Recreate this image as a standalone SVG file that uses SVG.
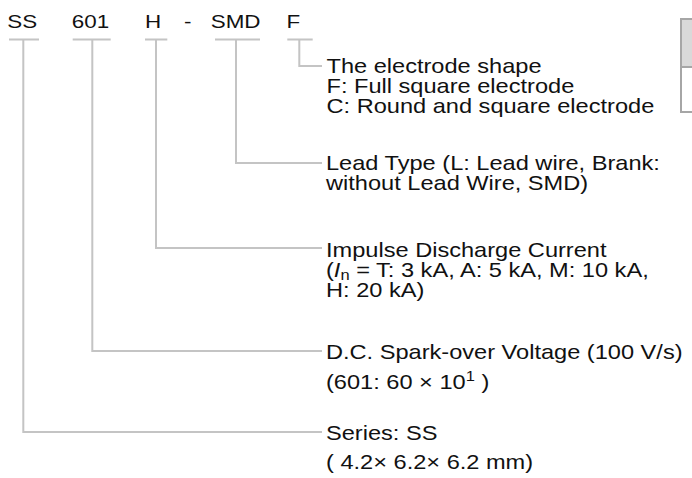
<svg xmlns="http://www.w3.org/2000/svg" width="692" height="478" viewBox="0 0 692 478">
<style>
.t{font-family:"Liberation Sans",Arial,sans-serif;font-size:20px;fill:#111}
.h{font-family:"Liberation Sans",Arial,sans-serif;font-size:19px;fill:#111}
.ln{fill:none;stroke:#c4c4c4;stroke-width:2}
.sub{font-size:14px}
</style>
<rect width="692" height="478" fill="#fff"/>
<g id="table">
<rect x="681" y="19" width="20" height="48" fill="#d9d9d9"/>
<rect x="681" y="19" width="20" height="93" fill="none" stroke="#a6a6a6" stroke-width="2"/>
<line x1="681" y1="67" x2="692" y2="67" stroke="#a6a6a6" stroke-width="2"/>
</g>
<g id="code">
<text class="h" transform="translate(7.3 27.5) scale(1.18 1)">SS</text>
<text class="h" transform="translate(71.8 27.5) scale(1.18 1)">601</text>
<text class="h" transform="translate(145 27.5) scale(1.18 1)">H</text>
<text class="h" transform="translate(184 27.5) scale(1.18 1)">-</text>
<text class="h" transform="translate(210.7 27.5) scale(1.18 1)">SMD</text>
<text class="h" transform="translate(286.5 27.5) scale(1.18 1)">F</text>
</g>
<g id="connectors">
<path class="ln" d="M9 39.5H39M23.3 39.5V432H322"/>
<path class="ln" d="M72.7 39.5H110.7M92.3 39.5V351H322"/>
<path class="ln" d="M145 39.5H167.3M156 39.5V248H322"/>
<path class="ln" d="M215 39.5H260M236 39.5V163H322"/>
<path class="ln" d="M287.3 39.5H312.7M299.3 39.5V66H322"/>
</g>
<g id="shape">
<text class="t" transform="translate(326.5 73) scale(1.18 1)">The electrode shape</text>
<text class="t" transform="translate(326.5 93) scale(1.18 1)">F: Full square electrode</text>
<text class="t" transform="translate(326.5 113) scale(1.18 1)">C: Round and square electrode</text>
</g>
<g id="lead">
<text class="t" transform="translate(326 170) scale(1.18 1)">Lead Type (L: Lead wire, Brank:</text>
<text class="t" transform="translate(326 190) scale(1.18 1)">without Lead Wire, SMD)</text>
</g>
<g id="impulse">
<text class="t" transform="translate(326 257) scale(1.18 1)">Impulse Discharge Current</text>
<text class="t" transform="translate(326 277) scale(1.18 1)">(<tspan font-style="italic">I</tspan><tspan class="sub" dy="3">n</tspan><tspan dy="-3"> = T: 3 kA, A: 5 kA, M: 10 kA,</tspan></text>
<text class="t" transform="translate(326 297) scale(1.18 1)">H: 20 kA)</text>
</g>
<g id="voltage">
<text class="t" transform="translate(326 359) scale(1.18 1)">D.C. Spark-over Voltage (100 V/s)</text>
<text class="t" transform="translate(326 388.5) scale(1.18 1)">(601: 60 × 10<tspan class="sub" dy="-8">1</tspan><tspan dy="8"> )</tspan></text>
</g>
<g id="series">
<text class="t" transform="translate(326 440) scale(1.18 1)">Series: SS</text>
<text class="t" transform="translate(326 469) scale(1.18 1)">( 4.2× 6.2× 6.2 mm)</text>
</g>
</svg>
